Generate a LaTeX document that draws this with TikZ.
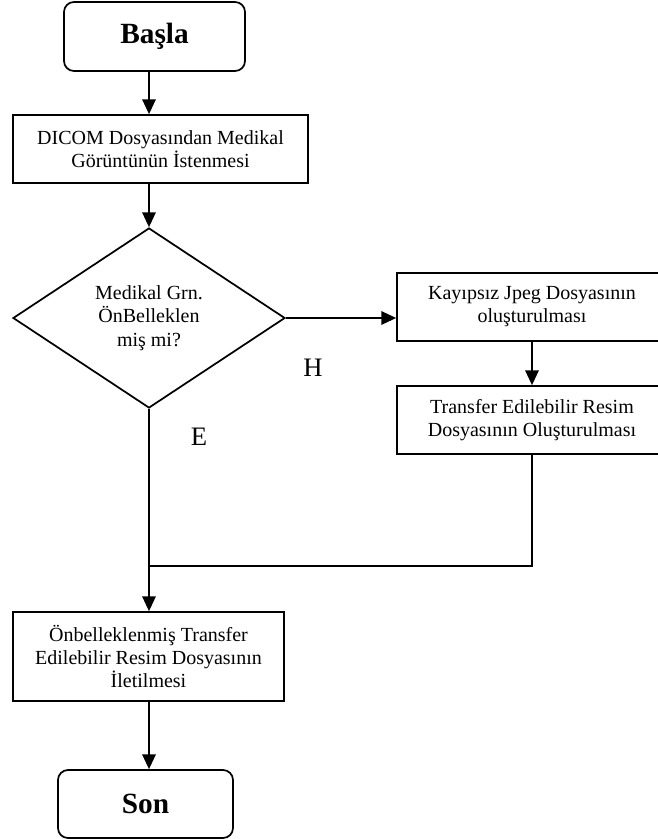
\documentclass[tikz,border=0pt]{standalone}
\usepackage{fontspec}
\setmainfont{Liberation Serif}
\usetikzlibrary{shapes.geometric,arrows.meta}
\begin{document}
\begin{tikzpicture}[x=0.75pt,y=-0.75pt,
  line width=1.3pt,
  flow/.style={-{Triangle[length=11pt,width=10pt]}},
  terminal/.style={draw,rounded corners=7.5pt,inner sep=0pt,
    font=\fontsize{22}{26}\selectfont\bfseries},
  process/.style={draw,align=center,inner sep=0pt,
    font=\fontsize{15}{17.3}\selectfont},
  decision/.style={draw,diamond,aspect=1.51,inner sep=0pt,
    minimum width=204pt,minimum height=135pt,align=center,
    font=\fontsize{15}{17.8}\selectfont},
  branch/.style={inner sep=0pt,font=\fontsize{20}{24}\selectfont}]
\useasboundingbox (0,0) rectangle (657,839);

% main column runs at x = 149
\coordinate (spine) at (149,0);

\node[terminal,minimum width=135.75pt,minimum height=51.75pt] (start) at (154.5,36.5) {Başla};
\node[process,minimum width=221.25pt,minimum height=51pt] (dicom) at (160.5,149)
  {DICOM Dosyasından Medikal\\Görüntünün İstenmesi};
\node[decision] (dia) at (149,318) {Medikal Grn.\\ÖnBelleklen\\miş mi?};
\node[process,minimum width=202.5pt,minimum height=51pt] (jpeg) at (532,307)
  {Kayıpsız Jpeg Dosyasının\\oluşturulması};
\node[process,minimum width=202.5pt,minimum height=51pt] (trans) at (532,420)
  {Transfer Edilebilir Resim\\Dosyasının Oluşturulması};
\node[process,minimum width=203.25pt,minimum height=66.75pt] (cache) at (148.5,656.5)
  {Önbelleklenmiş Transfer\\Edilebilir Resim Dosyasının\\İletilmesi};
\node[terminal,minimum width=131.25pt,minimum height=51pt] (son) at (145.5,804) {Son};

\node[branch] (hlab) at (313,368) {H};
\node[branch] (elab) at (199,437) {E};

\coordinate (merge) at (149,566);

% connectors
\draw[flow] (start.south -| spine) -- (dicom.north -| spine);
\draw[flow] (dicom.south -| spine) -- (dia.north);
\draw[flow] (dia.east) -- (jpeg.west |- dia.east);
\draw[flow] (jpeg.south) -- (trans.north);
\draw (trans.south) |- (merge);
\draw[flow] (dia.south) -- (cache.north -| spine);
\draw[flow] (cache.south -| spine) -- (son.north -| spine);
\end{tikzpicture}
\end{document}
